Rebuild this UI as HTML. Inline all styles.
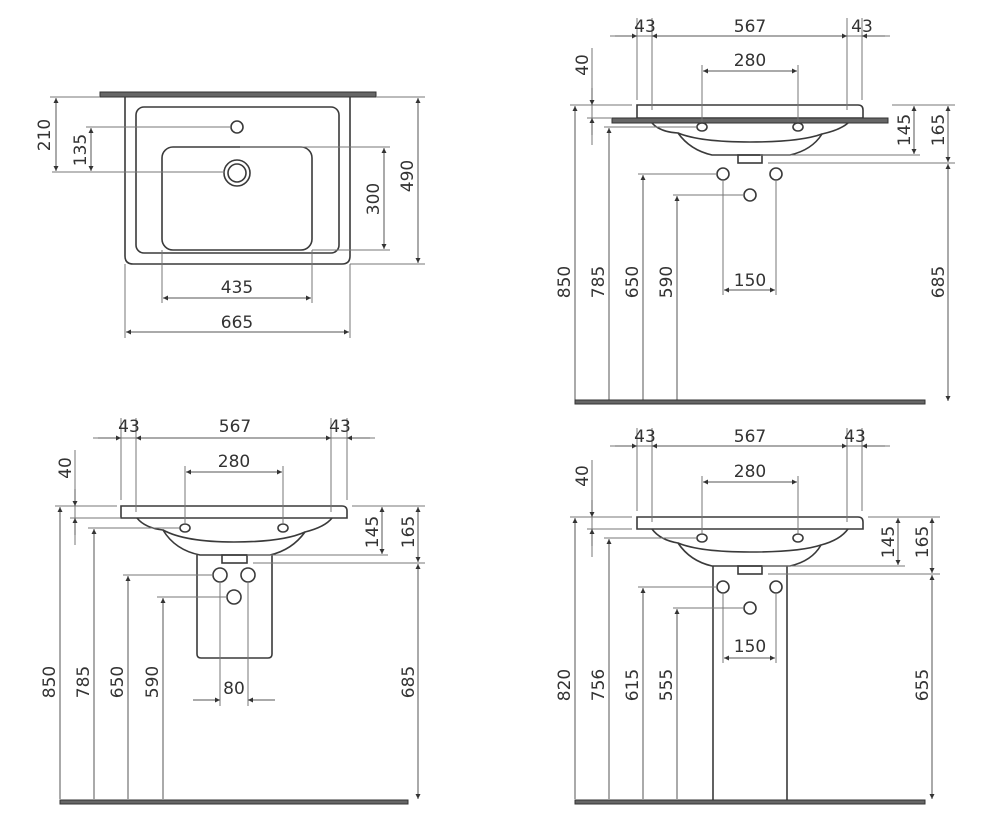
<!DOCTYPE html>
<html><head><meta charset="utf-8"><style>
html,body{margin:0;padding:0;background:#fff;}
svg{display:block}
text{font-family:"DejaVu Sans","Liberation Sans",sans-serif;font-size:17px;fill:#333;text-anchor:middle}
.o{fill:none;stroke:#3a3a3a;stroke-width:1.6}
.d{stroke:#777;stroke-width:1;fill:none}
.a{stroke:#555;stroke-width:1;fill:none;marker-start:url(#ar);marker-end:url(#ar)}
.ae{stroke:#555;stroke-width:1;fill:none;marker-end:url(#ar)}
.fl{fill:#666;stroke:#333;stroke-width:1}
</style></head><body>
<svg width="1000" height="826" viewBox="0 0 1000 826">
<defs><marker id="ar" viewBox="0 0 10 10" refX="10" refY="5" markerWidth="10" markerHeight="5" markerUnits="userSpaceOnUse" orient="auto-start-reverse"><path d="M0,0 L10,5 L0,10 z" fill="#333"/></marker></defs>

<!-- ===== TOP LEFT PLAN ===== -->
<rect x="100" y="92" width="276" height="5" class="fl"/>
<path class="o" d="M125,97 V256 Q125,264 133,264 H342 Q350,264 350,256 V97"/>
<rect class="o" x="136" y="107" width="203" height="146" rx="8"/>
<rect class="o" x="162" y="147" width="150" height="103" rx="11"/>
<circle class="o" cx="237" cy="127" r="6"/>
<circle class="o" cx="237" cy="173" r="13"/>
<circle class="o" cx="237" cy="173" r="9"/>
<line class="d" x1="50" y1="97" x2="100" y2="97"/>
<line class="d" x1="52" y1="172" x2="225" y2="172"/>
<line class="d" x1="86" y1="127" x2="231" y2="127"/>
<line class="a" x1="56" y1="98" x2="56" y2="171"/>
<line class="a" x1="91" y1="128" x2="91" y2="171"/>
<text transform="translate(50,135) rotate(-90)">210</text>
<text transform="translate(86,150) rotate(-90)">135</text>
<line class="d" x1="240" y1="147" x2="390" y2="147"/>
<line class="d" x1="312" y1="250" x2="390" y2="250"/>
<line class="a" x1="384" y1="148" x2="384" y2="249"/>
<text transform="translate(379,199) rotate(-90)">300</text>
<line class="d" x1="376" y1="97" x2="425" y2="97"/>
<line class="d" x1="350" y1="264" x2="425" y2="264"/>
<line class="a" x1="418" y1="98" x2="418" y2="263"/>
<text transform="translate(413,176) rotate(-90)">490</text>
<line class="d" x1="162" y1="250" x2="162" y2="303"/>
<line class="d" x1="312" y1="250" x2="312" y2="303"/>
<line class="a" x1="163" y1="298" x2="311" y2="298"/>
<text x="237" y="293">435</text>
<line class="d" x1="125" y1="264" x2="125" y2="338"/>
<line class="d" x1="350" y1="264" x2="350" y2="338"/>
<line class="a" x1="126" y1="332" x2="349" y2="332"/>
<text x="237" y="328">665</text>

<!-- ===== TOP RIGHT SIDE ===== -->
<path class="o" d="M637,118 V105 H858 Q863,105 863,110 V118"/>
<line class="o" x1="637" y1="118" x2="863" y2="118"/>
<rect x="612" y="118" width="276" height="5" class="fl"/>
<path class="o" d="M652,123 Q660,132 678,133 Q690,150 712,155 H790 Q812,150 822,134 Q840,130 848,123"/>
<path class="o" d="M678,133 Q700,142 750,142 Q800,142 822,134"/>
<rect class="o" x="738" y="155" width="24" height="8"/>
<ellipse class="o" cx="702" cy="127" rx="5" ry="4"/>
<ellipse class="o" cx="798" cy="127" rx="5" ry="4"/>
<circle class="o" cx="723" cy="174" r="6"/>
<circle class="o" cx="776" cy="174" r="6"/>
<circle class="o" cx="750" cy="195" r="6"/>
<line class="d" x1="637" y1="18" x2="637" y2="100"/>
<line class="d" x1="652" y1="18" x2="652" y2="110"/>
<line class="d" x1="847" y1="18" x2="847" y2="110"/>
<line class="d" x1="862" y1="18" x2="862" y2="100"/>
<line class="d" x1="610" y1="36" x2="890" y2="36"/>
<line class="ae" x1="615" y1="36" x2="637" y2="36"/>
<line class="a" x1="652" y1="36" x2="847" y2="36"/>
<line class="ae" x1="885" y1="36" x2="862" y2="36"/>
<text x="645" y="32">43</text><text x="750" y="32">567</text><text x="862" y="32">43</text>
<line class="d" x1="702" y1="65" x2="702" y2="122"/>
<line class="d" x1="798" y1="65" x2="798" y2="122"/>
<line class="a" x1="703" y1="71" x2="797" y2="71"/>
<text x="750" y="66">280</text>
<line class="d" x1="570" y1="105" x2="632" y2="105"/>
<line class="d" x1="587" y1="118" x2="612" y2="118"/>
<line class="d" x1="604" y1="127" x2="696" y2="127"/>
<line class="d" x1="592" y1="48" x2="592" y2="145"/>
<line class="ae" x1="592" y1="88" x2="592" y2="105"/>
<line class="ae" x1="592" y1="135" x2="592" y2="118"/>
<text transform="translate(588,65) rotate(-90)">40</text>
<line class="d" x1="760" y1="155" x2="920" y2="155"/>
<line class="d" x1="768" y1="163" x2="955" y2="163"/>
<line class="d" x1="892" y1="105" x2="955" y2="105"/>
<line class="a" x1="914" y1="106" x2="914" y2="154"/>
<line class="a" x1="948" y1="106" x2="948" y2="162"/>
<line class="a" x1="948" y1="164" x2="948" y2="401"/>
<text transform="translate(910,130) rotate(-90)">145</text>
<text transform="translate(944,130) rotate(-90)">165</text>
<text transform="translate(944,282) rotate(-90)">685</text>
<line class="d" x1="638" y1="174" x2="717" y2="174"/>
<line class="d" x1="673" y1="195" x2="744" y2="195"/>
<line class="ae" x1="575" y1="401" x2="575" y2="106"/>
<line class="ae" x1="609" y1="401" x2="609" y2="128"/>
<line class="ae" x1="643" y1="401" x2="643" y2="175"/>
<line class="ae" x1="677" y1="401" x2="677" y2="196"/>
<text transform="translate(570,282) rotate(-90)">850</text>
<text transform="translate(604,282) rotate(-90)">785</text>
<text transform="translate(638,282) rotate(-90)">650</text>
<text transform="translate(672,282) rotate(-90)">590</text>
<line class="d" x1="723" y1="180" x2="723" y2="295"/>
<line class="d" x1="776" y1="180" x2="776" y2="295"/>
<line class="a" x1="724" y1="290" x2="775" y2="290"/>
<text x="750" y="286">150</text>
<rect x="575" y="400" width="350" height="4" class="fl"/>

<!-- ===== BOTTOM LEFT ===== -->
<path class="o" d="M121,518 V506 H342 Q347,506 347,511 V518 Z"/>
<path class="o" d="M137,518 Q145,528 163,530 Q175,550 200,555 H270 Q292,550 305,532 Q325,527 332,518"/>
<path class="o" d="M163,530 Q185,542 234,542 Q283,542 305,532"/>
<path class="o" d="M197,555 V654 Q197,658 201,658 H268 Q272,658 272,654 V555"/>
<rect class="o" x="222" y="555" width="25" height="8"/>
<ellipse class="o" cx="185" cy="528" rx="5" ry="4"/>
<ellipse class="o" cx="283" cy="528" rx="5" ry="4"/>
<circle class="o" cx="220" cy="575" r="7"/>
<circle class="o" cx="248" cy="575" r="7"/>
<circle class="o" cx="234" cy="597" r="7"/>
<line class="d" x1="121" y1="418" x2="121" y2="500"/>
<line class="d" x1="136" y1="418" x2="136" y2="512"/>
<line class="d" x1="331" y1="418" x2="331" y2="512"/>
<line class="d" x1="347" y1="418" x2="347" y2="500"/>
<line class="d" x1="93" y1="438" x2="375" y2="438"/>
<line class="ae" x1="98" y1="438" x2="121" y2="438"/>
<line class="a" x1="136" y1="438" x2="331" y2="438"/>
<line class="ae" x1="370" y1="438" x2="347" y2="438"/>
<text x="129" y="432">43</text><text x="235" y="432">567</text><text x="340" y="432">43</text>
<line class="d" x1="185" y1="466" x2="185" y2="523"/>
<line class="d" x1="283" y1="466" x2="283" y2="523"/>
<line class="a" x1="186" y1="472" x2="282" y2="472"/>
<text x="234" y="467">280</text>
<line class="d" x1="55" y1="506" x2="117" y2="506"/>
<line class="d" x1="70" y1="518" x2="121" y2="518"/>
<line class="d" x1="88" y1="528" x2="179" y2="528"/>
<line class="d" x1="75" y1="450" x2="75" y2="545"/>
<line class="ae" x1="75" y1="489" x2="75" y2="506"/>
<line class="ae" x1="75" y1="535" x2="75" y2="518"/>
<text transform="translate(71,468) rotate(-90)">40</text>
<line class="d" x1="247" y1="555" x2="388" y2="555"/>
<line class="d" x1="253" y1="563" x2="425" y2="563"/>
<line class="d" x1="352" y1="506" x2="425" y2="506"/>
<line class="a" x1="382" y1="507" x2="382" y2="554"/>
<line class="a" x1="418" y1="507" x2="418" y2="562"/>
<line class="a" x1="418" y1="564" x2="418" y2="799"/>
<text transform="translate(378,532) rotate(-90)">145</text>
<text transform="translate(414,532) rotate(-90)">165</text>
<text transform="translate(414,682) rotate(-90)">685</text>
<line class="d" x1="123" y1="575" x2="213" y2="575"/>
<line class="d" x1="157" y1="597" x2="227" y2="597"/>
<line class="ae" x1="60" y1="799" x2="60" y2="507"/>
<line class="ae" x1="94" y1="799" x2="94" y2="529"/>
<line class="ae" x1="128" y1="799" x2="128" y2="576"/>
<line class="ae" x1="163" y1="799" x2="163" y2="598"/>
<text transform="translate(55,682) rotate(-90)">850</text>
<text transform="translate(89,682) rotate(-90)">785</text>
<text transform="translate(123,682) rotate(-90)">650</text>
<text transform="translate(158,682) rotate(-90)">590</text>
<line class="d" x1="220" y1="582" x2="220" y2="706"/>
<line class="d" x1="248" y1="582" x2="248" y2="706"/>
<line class="ae" x1="193" y1="700" x2="220" y2="700"/>
<line class="ae" x1="275" y1="700" x2="248" y2="700"/>
<text x="234" y="694">80</text>
<rect x="60" y="800" width="348" height="4" class="fl"/>

<!-- ===== BOTTOM RIGHT ===== -->
<path class="o" d="M637,529 V517 H858 Q863,517 863,522 V529 Z"/>
<path class="o" d="M652,529 Q660,540 678,543 Q690,561 712,566 H790 Q812,561 821,545 Q840,540 848,529"/>
<path class="o" d="M678,543 Q700,552 750,552 Q800,552 821,545"/>
<rect class="o" x="738" y="566" width="24" height="8"/>
<line class="o" x1="713" y1="566" x2="713" y2="800"/>
<line class="o" x1="787" y1="566" x2="787" y2="800"/>
<ellipse class="o" cx="702" cy="538" rx="5" ry="4"/>
<ellipse class="o" cx="798" cy="538" rx="5" ry="4"/>
<circle class="o" cx="723" cy="587" r="6"/>
<circle class="o" cx="776" cy="587" r="6"/>
<circle class="o" cx="750" cy="608" r="6"/>
<line class="d" x1="637" y1="428" x2="637" y2="511"/>
<line class="d" x1="652" y1="428" x2="652" y2="522"/>
<line class="d" x1="847" y1="428" x2="847" y2="522"/>
<line class="d" x1="862" y1="428" x2="862" y2="511"/>
<line class="d" x1="610" y1="446" x2="890" y2="446"/>
<line class="ae" x1="615" y1="446" x2="637" y2="446"/>
<line class="a" x1="652" y1="446" x2="847" y2="446"/>
<line class="ae" x1="885" y1="446" x2="862" y2="446"/>
<text x="645" y="442">43</text><text x="750" y="442">567</text><text x="855" y="442">43</text>
<line class="d" x1="702" y1="476" x2="702" y2="533"/>
<line class="d" x1="798" y1="476" x2="798" y2="533"/>
<line class="a" x1="703" y1="482" x2="797" y2="482"/>
<text x="750" y="477">280</text>
<line class="d" x1="570" y1="517" x2="632" y2="517"/>
<line class="d" x1="587" y1="529" x2="632" y2="529"/>
<line class="d" x1="604" y1="538" x2="696" y2="538"/>
<line class="d" x1="592" y1="460" x2="592" y2="557"/>
<line class="ae" x1="592" y1="500" x2="592" y2="517"/>
<line class="ae" x1="592" y1="546" x2="592" y2="529"/>
<text transform="translate(588,476) rotate(-90)">40</text>
<line class="d" x1="762" y1="566" x2="905" y2="566"/>
<line class="d" x1="768" y1="574" x2="940" y2="574"/>
<line class="d" x1="868" y1="517" x2="940" y2="517"/>
<line class="a" x1="898" y1="518" x2="898" y2="565"/>
<line class="a" x1="932" y1="518" x2="932" y2="573"/>
<line class="a" x1="932" y1="575" x2="932" y2="799"/>
<text transform="translate(894,542) rotate(-90)">145</text>
<text transform="translate(928,542) rotate(-90)">165</text>
<text transform="translate(928,685) rotate(-90)">655</text>
<line class="d" x1="638" y1="587" x2="717" y2="587"/>
<line class="d" x1="673" y1="608" x2="744" y2="608"/>
<line class="ae" x1="575" y1="799" x2="575" y2="518"/>
<line class="ae" x1="609" y1="799" x2="609" y2="539"/>
<line class="ae" x1="643" y1="799" x2="643" y2="588"/>
<line class="ae" x1="677" y1="799" x2="677" y2="609"/>
<text transform="translate(570,685) rotate(-90)">820</text>
<text transform="translate(604,685) rotate(-90)">756</text>
<text transform="translate(638,685) rotate(-90)">615</text>
<text transform="translate(672,685) rotate(-90)">555</text>
<line class="d" x1="723" y1="593" x2="723" y2="663"/>
<line class="d" x1="776" y1="593" x2="776" y2="663"/>
<line class="a" x1="724" y1="658" x2="775" y2="658"/>
<text x="750" y="652">150</text>
<rect x="575" y="800" width="350" height="4" class="fl"/>
</svg>
</body></html>
